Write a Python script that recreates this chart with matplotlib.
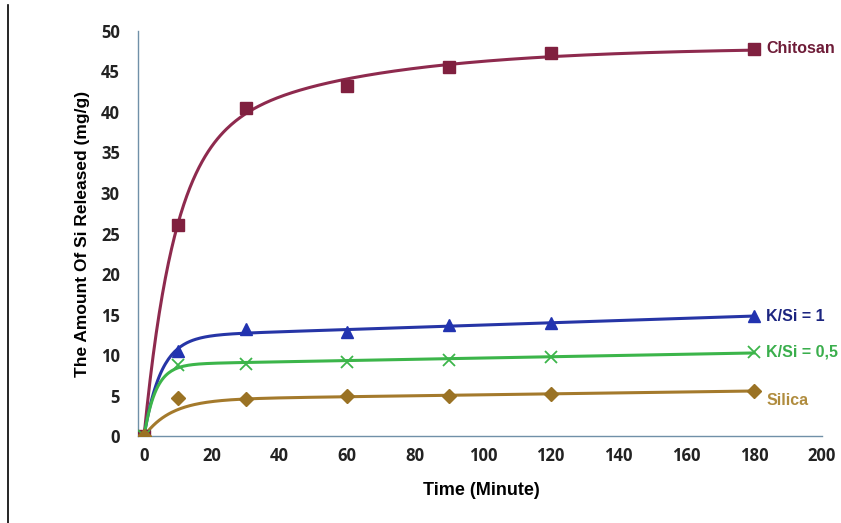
import numpy as np
import matplotlib
matplotlib.use("Agg")
import matplotlib.pyplot as plt
from matplotlib.lines import Line2D

# data
time_min = [0, 10, 30, 60, 90, 120, 180]
chitosan = [0, 26.0, 40.5, 43.2, 45.5, 47.3, 47.8]
ksi_1 = [0, 10.5, 13.2, 12.8, 13.7, 14.0, 14.8]
ksi_05 = [0, 8.8, 8.9, 9.2, 9.4, 9.8, 10.4]
silica = [0, 4.7, 4.6, 4.9, 5.0, 5.2, 5.6]

names = ["Chitosan", "K/Si = 1", "K/Si = 0,5", "Silica"]
values = [chitosan, ksi_1, ksi_05, silica]
line_cols = ["#8e2a4e", "#2635a6", "#3cb54a", "#a47a2c"]
mark_cols = ["#80203f", "#2233b0", "#3cb54a", "#9a7224"]
text_cols = ["#6e1c38", "#1c2580", "#3aae4c", "#b08c3e"]
markers = ["s", "^", "x", "D"]
msizes = [8.5, 9, 9, 7]
# trend line: fast time scale (None = best fit) and slow one (None = linear drift)
fast = [None, 5.0, 3.5, 8.0]
slow = [50.0, None, None, None]
# points left out of the trend fit (the 10 min silica point sits off the curve)
skip = [[], [], [], [1]]
label_dy = [0, 0, 0, -7]


def trend(x, y, s, s2, drop):
    x = np.asarray(x, float)
    y = np.asarray(y, float)
    keep = np.array([i not in drop for i in range(len(x))])
    h = (lambda t: t) if s2 is None else (lambda t: 1 - np.exp(-t / s2))
    cands = [s] if s is not None else np.linspace(2, 25, 231)
    best = None
    for sc in cands:
        g = lambda t, sc=sc: 1 - np.exp(-t / sc)
        A = np.column_stack([g(x), h(x)])
        coef = np.linalg.lstsq(A[keep], y[keep], rcond=None)[0]
        err = np.sum((A[keep] @ coef - y[keep]) ** 2)
        if best is None or err < best[0]:
            best = (err, g, coef)
    _, g, coef = best
    xs = np.linspace(0, x.max(), 400)
    return xs, coef[0] * g(xs) + coef[1] * h(xs)


fig = plt.figure(figsize=(8.41, 5.23), dpi=100)
ax = fig.add_axes([0.164, 0.166, 0.813, 0.775])

for i in range(len(names)):
    xs, ys = trend(time_min, values[i], fast[i], slow[i], skip[i])
    ax.plot(xs, ys, color=line_cols[i], lw=2.2, zorder=2)
    if markers[i] == "x":
        ax.plot(time_min, values[i], ls="none", marker="x", ms=msizes[i],
                mew=1.3, color=mark_cols[i], zorder=3 + i)
    else:
        ax.plot(time_min, values[i], ls="none", marker=markers[i], ms=msizes[i],
                color=mark_cols[i], mec=mark_cols[i], zorder=3 + i)
    ax.annotate(names[i], (time_min[-1], values[i][-1]), xytext=(9, label_dy[i]),
                textcoords="offset points", va="center", ha="left",
                fontsize=11.5, fontweight="bold", color=text_cols[i],
                family="Liberation Sans")

ax.set_xlim(-1.8, 200)
ax.set_ylim(0, 50)
ax.set_xticks(np.arange(0, 201, 20))
ax.set_yticks(np.arange(0, 51, 5))
for s in ["top", "right"]:
    ax.spines[s].set_visible(False)
for s in ["left", "bottom"]:
    ax.spines[s].set_color("#7090a8")
    ax.spines[s].set_linewidth(1.0)
ax.tick_params(length=0, labelsize=12)
ax.tick_params(axis="y", pad=13)
ax.tick_params(axis="x", pad=8)
for t in ax.get_xticklabels() + ax.get_yticklabels():
    t.set_family("Open Sans")
    t.set_fontweight("bold")
    t.set_color("#222222")

ax.set_xlabel("Time (Minute)", fontsize=13, fontweight="bold",
              family="Liberation Sans")
ax.set_ylabel("The Amount Of Si Released (mg/g)", fontsize=12.5, fontweight="bold",
              family="Liberation Sans")
ax.xaxis.set_label_coords(0.503, -0.113)
ax.yaxis.set_label_coords(-0.070, 0.5)

# scan border on the left
fig.add_artist(Line2D([8 / 841, 8 / 841], [0, 1 - 5 / 523], color="black", lw=1.2))

fig.savefig("out.png", dpi=100)
